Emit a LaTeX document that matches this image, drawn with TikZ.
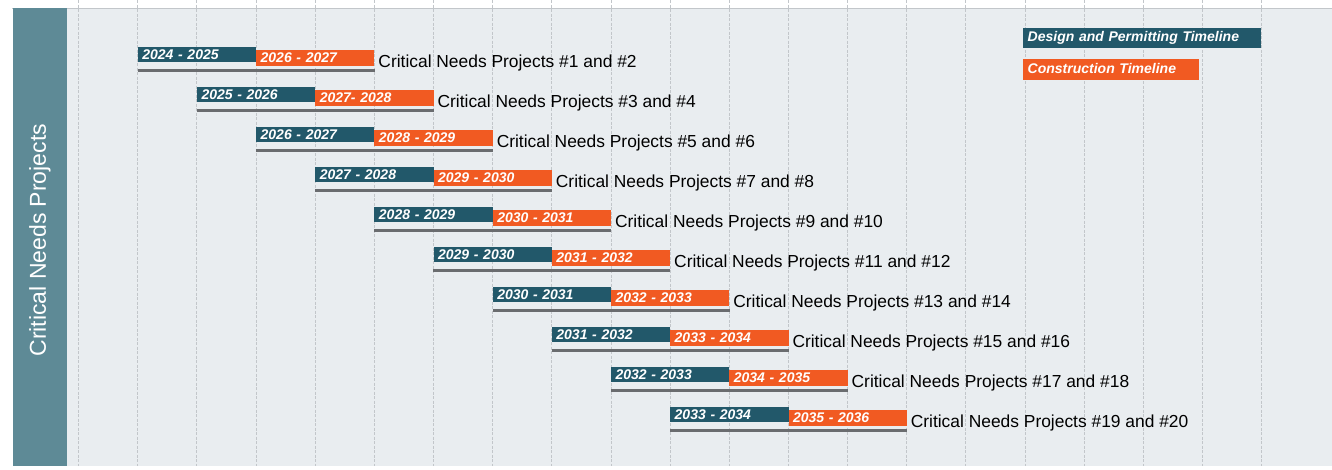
\documentclass[tikz,border=0pt]{standalone}
\usepackage{fontspec}
\setmainfont{Liberation Sans}
\definecolor{tealbar}{HTML}{22586A}
\definecolor{orngbar}{HTML}{F15A22}
\definecolor{stripc}{HTML}{5E8A96}
\definecolor{chartbg}{HTML}{E9EDF0}
\definecolor{gridc}{HTML}{C2C6CA}
\definecolor{ulinec}{HTML}{6A6C6F}
\begin{document}
\begin{tikzpicture}[x=1pt,y=-1pt,
  gridline/.style={gridc, line width=0.7pt, dash pattern=on 3pt off 1.5pt},
  barbase/.style={inner ysep=0pt, inner xsep=4.5pt, text=white, align=left,
    font=\fontsize{14}{14}\selectfont\bfseries\itshape, text height=10pt, text depth=0pt, anchor=north west},
  dbar/.style={barbase, fill=tealbar, minimum height=15pt, text width=109.3pt},
  cbar/.style={barbase, fill=orngbar, minimum height=15.5pt, text width=109.3pt},
  uline/.style={ulinec, line width=3pt},
  lbl/.style={font=\fontsize{17.4}{20}\selectfont, text=black, inner sep=0pt, anchor=base west}
]
\useasboundingbox (0,0) rectangle (1332,469);
\fill[white] (0,0) rectangle (1332,469);
\fill[chartbg] (67,8) rectangle (1332,466);
\foreach \k in {0,...,20}
  \draw[gridline] ({78.5+59.15*\k},0) -- ({78.5+59.15*\k},466);
\draw[gridc, line width=1pt] (12,8) -- (1332,8);
\node[fill=stripc, minimum width=54.5pt, minimum height=458pt, anchor=north west, inner sep=0pt] (strip) at (12.5,8) {};
\node[rotate=90, text=white, font=\fontsize{23}{23}\selectfont, inner sep=0pt] (striptext) at ([yshift=-3pt]strip.center) {Critical Needs Projects};
% legend
\node[dbar, minimum height=20pt, text width=229pt, text depth=3pt] (legD) at (1023,28) {Design and Permitting Timeline};
\node[cbar, minimum height=21pt, text width=167pt, text depth=3pt] (legC) at (1023,59) {Construction Timeline};
% rows
\foreach \n/\a/\b in {1/2024 - 2025/2026 - 2027, 2/2025 - 2026/2027- 2028, 3/2026 - 2027/2028 - 2029,
  4/2027 - 2028/2029 - 2030, 5/2028 - 2029/2030 - 2031, 6/2029 - 2030/2031 - 2032,
  7/2030 - 2031/2032 - 2033, 8/2031 - 2032/2033 - 2034, 9/2032 - 2033/2034 - 2035,
  10/2033 - 2034/2035 - 2036}{
  \pgfmathsetmacro\xl{137.65+59.15*(\n-1)}
  \pgfmathsetmacro\yt{46.5+40*(\n-1)}
  \pgfmathtruncatemacro\p{2*\n-1}
  \pgfmathtruncatemacro\q{2*\n}
  \node[dbar] (d\n) at (\xl,\yt) {\a};
  \node[cbar] (c\n) at ({\xl+118.3},{\yt+3.5}) {\b};
  \draw[uline] ([yshift=-9pt]d\n.south west) -- ([yshift=-5pt]c\n.south east);
  \node[lbl] (l\n) at ({\xl+236.6+4},{\yt+21}) {Critical Needs Projects \#\p\ and \#\q};
}
\end{tikzpicture}
\end{document}
